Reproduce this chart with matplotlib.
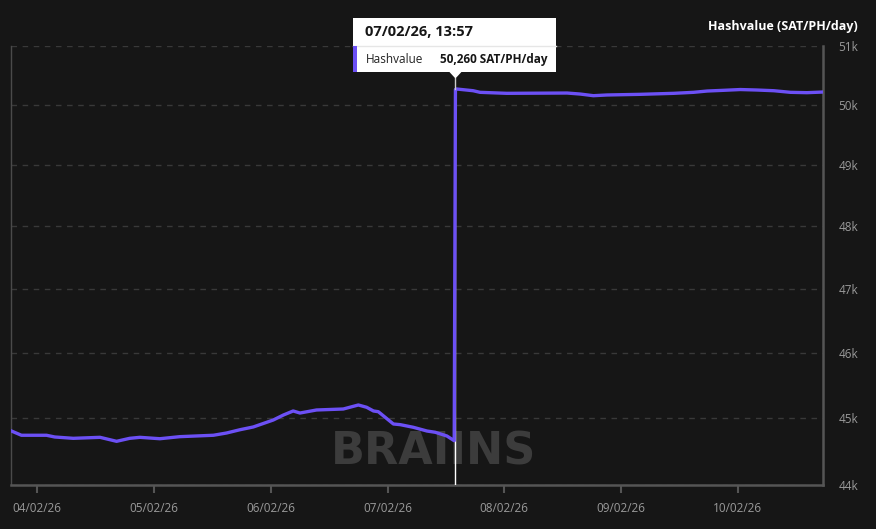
import pandas as pd
import matplotlib
matplotlib.use("Agg")
import matplotlib.pyplot as plt
import matplotlib.dates as mdates
from matplotlib.patches import Rectangle, Polygon
from matplotlib.ticker import FixedLocator, NullLocator, FuncFormatter
from matplotlib.transforms import IdentityTransform

# hours since 2026-02-04 00:00 and hashvalue (SAT/PH/day)
start = pd.Timestamp("2026-02-04 00:00")
hours = [-5.3, -3.25, 1.9, 3.6, 7.4, 12.9, 16.3, 19.0, 21.1, 25.2, 29.3, 36.2, 38.9,
         41.7, 44.4, 48.5, 50.6, 52.6, 54.0, 57.4, 62.9, 66.0, 67.7, 69.1, 70.1,
         73.2, 74.6, 77.3, 80.1, 81.8, 84.2, 85.7, 85.95,
         86.2, 89.6, 91.0, 96.5, 108.9, 111.6, 114.3, 117.1, 123.9, 130.8, 134.9,
         137.7, 141.1, 144.5, 147.9, 151.4, 154.8, 158.2, 161.5]
values = [44806, 44742, 44742, 44716, 44696, 44711, 44651, 44696, 44711, 44690, 44721,
          44742, 44776, 44826, 44867, 44972, 45048, 45109, 45078, 45124, 45139, 45200,
          45165, 45109, 45098, 44912, 44902, 44862, 44806, 44787, 44731, 44660, 50260,
          50268, 50239, 50212, 50195, 50200, 50183, 50155, 50167, 50178, 50195, 50212,
          50234, 50246, 50259, 50251, 50239, 50212, 50206, 50217]
y_ticks = [44000, 45000, 46000, 47000, 48000, 49000, 50000, 51000]

tip_hour = 85.95
tip_value = 50260
tip_title = "07/02/26, 13:57"
tip_label = "Hashvalue"
tip_text = "50,260 SAT/PH/day"

bg = "#161616"
purple = "#6c50f5"
grey_text = "#9a9a9a"

plt.rcParams['font.family'] = ['Open Sans', 'DejaVu Sans']

times = start + pd.to_timedelta(hours, unit="h")
tip_time = start + pd.Timedelta(hours=tip_hour)

fig = plt.figure(figsize=(8.76, 5.29), dpi=100, facecolor=bg)
ax = fig.add_axes([0.0131, 0.0832, 0.9264, 0.8298])
ax.set_facecolor(bg)

ax.plot(times, values, color=purple, lw=2.4, zorder=4, solid_joinstyle="round")
ax.plot([tip_time, tip_time], [y_ticks[0], tip_value], color="white", lw=1, zorder=3)

ax.set_yscale("log")
ax.set_ylim(y_ticks[0], y_ticks[-1])
ax.set_xlim(times[0], times[-1])
ax.yaxis.set_major_locator(FixedLocator(y_ticks))
ax.yaxis.set_minor_locator(NullLocator())
ax.yaxis.set_major_formatter(FuncFormatter(lambda v, p: f"{v / 1000:.0f}k"))
ax.yaxis.tick_right()
ax.tick_params(axis="y", length=0, pad=11, labelsize=8.5, colors=grey_text)
ax.grid(axis="y", color="#393939", lw=1, linestyle=(0, (4, 4)))

ax.xaxis.set_major_locator(mdates.DayLocator())
ax.xaxis.set_major_formatter(mdates.DateFormatter("%d/%m/%y"))
ax.tick_params(axis="x", length=6, width=1.5, color="#555555", pad=6,
               labelsize=8.5, labelcolor=grey_text)

ax.spines["top"].set_visible(False)
ax.spines["left"].set_color("#4a4a4a")
ax.spines["left"].set_linewidth(1)
for s in ("bottom", "right"):
    ax.spines[s].set_color("#555555")
    ax.spines[s].set_linewidth(1.8)

ax.text(0.52, 0.075, "BRAIINS", transform=ax.transAxes, ha="center", va="center",
        fontsize=32, fontweight="bold", color="#3c3c3c", family="DejaVu Sans", zorder=1)

fig.text(0.979, 0.949, "Hashvalue (SAT/PH/day)", ha="right", va="center",
         fontsize=9, fontweight="bold", color="white")

# tooltip, placed in pixels relative to the hovered point
fig.canvas.draw()
px, py = ax.transData.transform((mdates.date2num(tip_time), tip_value))
ident = IdentityTransform()
box_l, box_r = px - 102, px + 101
box_b, box_t = py + 17, py + 71
sep = py + 43
fig.add_artist(Rectangle((box_l, box_b), box_r - box_l, box_t - box_b, transform=ident,
                         facecolor="white", edgecolor="none", zorder=10))
fig.add_artist(Polygon([(px - 6, box_b + 0.5), (px + 6, box_b + 0.5), (px, box_b - 6)],
                       transform=ident, facecolor="white", edgecolor="none", zorder=10))
fig.add_artist(plt.Line2D([px, px], [py, box_b - 6], transform=ident, color="#cccccc",
                          lw=1, zorder=9))
fig.add_artist(plt.Line2D([box_l, box_r], [sep, sep], transform=ident, color="#e6e6e6",
                          lw=1, zorder=11))
fig.add_artist(Rectangle((box_l, box_b), 3.5, sep - box_b, transform=ident,
                         facecolor=purple, edgecolor="none", zorder=11))
fig.text(box_l + 12, (sep + box_t) / 2, tip_title, transform=ident, ha="left",
         va="center", fontsize=10.5, fontweight="bold", color="#161616", zorder=12)
fig.text(box_l + 12, (sep + box_b) / 2, tip_label, transform=ident, ha="left",
         va="center", fontsize=8.5, color="#222222", zorder=12)
fig.text(box_r - 9, (sep + box_b) / 2, tip_text, transform=ident, ha="right",
         va="center", fontsize=8.5, fontweight="bold", color="#161616", zorder=12)

fig.savefig("out.png", dpi=100, facecolor=bg)
